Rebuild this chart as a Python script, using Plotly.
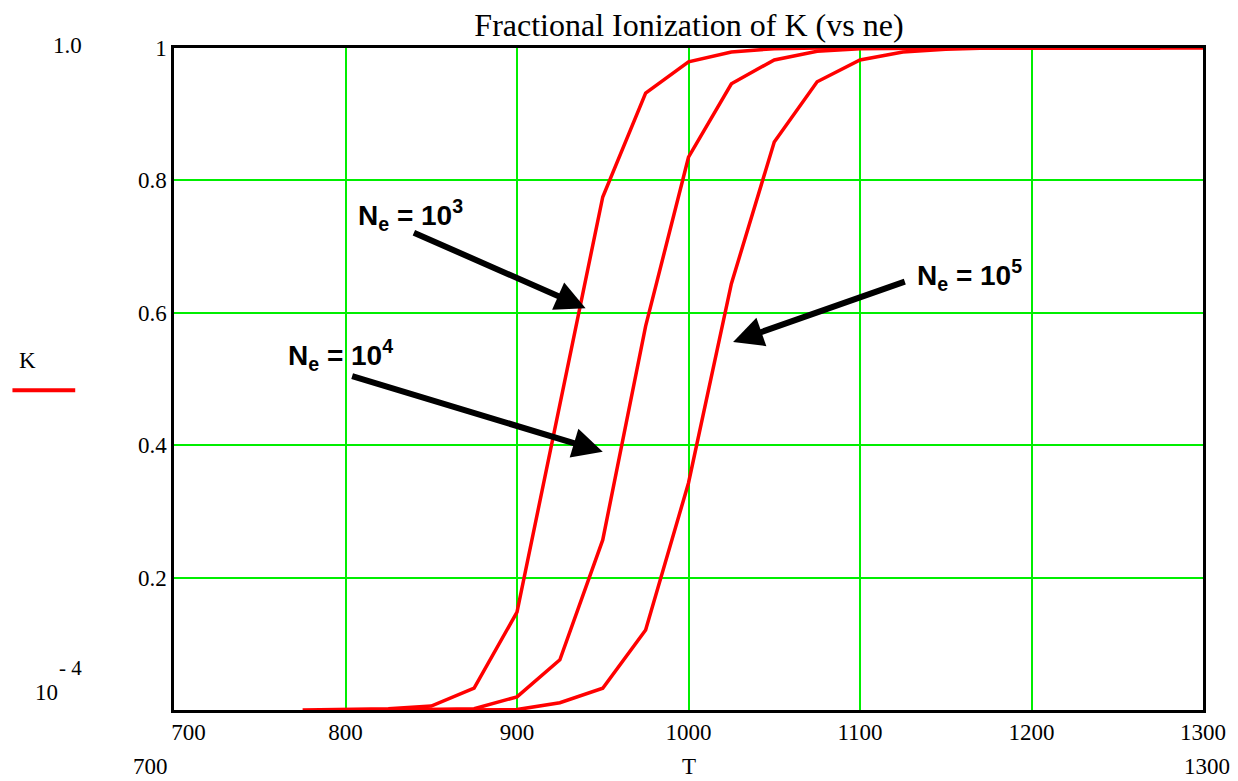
import plotly.graph_objects as go

# Temperature grid (K)
T1 = [775, 800, 825, 850, 875, 900, 925, 950, 975, 1000, 1025, 1050, 1075, 1100, 1125, 1150, 1175, 1200, 1225, 1250, 1275]
K1 = [0.0001, 0.001, 0.002, 0.006, 0.033, 0.148, 0.46, 0.775, 0.932, 0.979, 0.994, 0.999, 1.0, 1.0, 1.0, 1.0, 1.0, 1.0, 1.0, 1.0, 1.0]

T2 = [825, 850, 875, 900, 925, 950, 975, 1000, 1025, 1050, 1075, 1100, 1125, 1150, 1175, 1200, 1225, 1250, 1275]
K2 = [0.0001, 0.0005, 0.002, 0.02, 0.076, 0.257, 0.58, 0.835, 0.946, 0.982, 0.995, 0.999, 1.0, 1.0, 1.0, 1.0, 1.0, 1.0, 1.0]

T3 = [850, 875, 900, 925, 950, 975, 1000, 1025, 1050, 1075, 1100, 1125, 1150, 1175, 1200, 1225, 1250, 1275, 1300]
K3 = [0.0001, 0.0003, 0.0007, 0.011, 0.033, 0.121, 0.343, 0.644, 0.858, 0.949, 0.982, 0.994, 0.998, 1.0, 1.0, 1.0, 1.0, 1.0, 1.0]

x_ticks = [700, 800, 900, 1000, 1100, 1200, 1300]
x_tick_text = ["\u00a0\u00a0\u00a0\u00a0\u00a0700", "800", "900", "1000", "1100", "1200", "1300"]
y_ticks = [0.2, 0.4, 0.6, 0.8, 1.0]
y_tick_text = ["0.2", "0.4", "0.6", "0.8", "1"]

# Annotation labels
labels = ["N<sub>e</sub> = 10<sup>3</sup>", "N<sub>e</sub> = 10<sup>4</sup>", "N<sub>e</sub> = 10<sup>5</sup>"]
label_x = [838, 797, 1164]
label_y = [0.748, 0.536, 0.657]
arrow_tail_x = [839, 803, 1127]
arrow_tail_y = [0.722, 0.505, 0.648]
arrow_tip_x = [940, 950, 1026]
arrow_tip_y = [0.607, 0.390, 0.556]

RED = "#ff0000"
GREEN = "#00ee00"
SERIF = "Liberation Serif, Times New Roman, serif"
SANS = "Liberation Sans, Arial, sans-serif"

fig = go.Figure()
for T, K in [(T1, K1), (T2, K2), (T3, K3)]:
    fig.add_trace(go.Scatter(x=T, y=K, mode="lines",
                             line=dict(color=RED, width=3.5),
                             showlegend=False, hoverinfo="skip"))

annotations = []
for txt, tx, ty, ax_, ay_, px_, py_ in zip(labels, label_x, label_y, arrow_tail_x, arrow_tail_y, arrow_tip_x, arrow_tip_y):
    annotations.append(dict(x=px_, y=py_, ax=ax_, ay=ay_, xref="x", yref="y", axref="x", ayref="y",
                            text="", showarrow=True, arrowhead=2, arrowsize=1.0, arrowwidth=6,
                            arrowcolor="black", standoff=0, startstandoff=0))
    annotations.append(dict(x=tx, y=ty, xref="x", yref="y", text="<b>" + txt + "</b>",
                            showarrow=False, font=dict(family=SANS, size=28, color="black")))

TXT = dict(family=SERIF, size=23, color="black")
# Mathcad-style range limits and axis names
side = [
    ("1.0", 1, -107, 3, TXT),
    ("10", 0, -128, 18, TXT),
    ("- 4", 0, -104, 42, dict(family=SERIF, size=21, color="black")),
    ("700", 0, -24, -56, TXT),
    ("K", 0.5, -147, 19, TXT),
]
for text, py, xs, ys, f in side:
    annotations.append(dict(x=0, y=py, xref="paper", yref="paper", xshift=xs, yshift=ys,
                            xanchor="center", yanchor="middle", text=text, showarrow=False, font=f))
annotations += [
    dict(x=0.5, y=0, xref="paper", yref="paper", yshift=-56, xanchor="center", yanchor="middle",
         text="T", showarrow=False, font=TXT),
    dict(x=1, y=0, xref="paper", yref="paper", yshift=-56, xshift=4, xanchor="center", yanchor="middle",
         text="1300", showarrow=False, font=TXT),
]

fig.update_layout(
    width=1238, height=781,
    margin=dict(l=174, r=35, t=48, b=71),
    paper_bgcolor="white", plot_bgcolor="white",
    title=dict(text="Fractional Ionization of K (vs ne)", x=0.5565, xanchor="center", y=0.968, yanchor="middle",
               font=dict(family=SERIF, size=32, color="black")),
    annotations=annotations,
    shapes=[dict(type="line", xref="paper", yref="paper", x0=-0.157, x1=-0.096, y0=0.483, y1=0.483,
                 line=dict(color=RED, width=4))],
)
fig.update_xaxes(range=[700, 1300], tickvals=x_ticks, ticktext=x_tick_text,
                 showgrid=True, gridcolor=GREEN, gridwidth=2,
                 showline=True, linecolor="black", linewidth=2.5, mirror=True,
                 ticks="", zeroline=False,
                 tickfont=TXT)
fig.update_yaxes(range=[0.0001, 1.0], tickvals=y_ticks, ticktext=y_tick_text,
                 showgrid=True, gridcolor=GREEN, gridwidth=2,
                 showline=True, linecolor="black", linewidth=2.5, mirror=True,
                 ticks="", zeroline=False,
                 tickfont=TXT)

fig.write_html("out.html")
